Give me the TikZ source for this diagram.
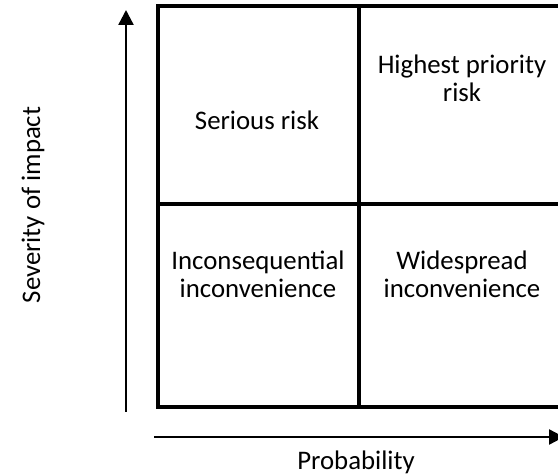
\documentclass[tikz,border=0pt]{standalone}
\usepackage{fontspec}
\setmainfont{Carlito}
\usetikzlibrary{arrows.meta}

\begin{document}
\begin{tikzpicture}[x=0.5pt, y=-0.5pt,
    font={\fontsize{13.4pt}{14pt}\selectfont}]

  % Page size
  \useasboundingbox (0,0) rectangle (558,476);

  % Corners and centre of the grid
  \coordinate (TL) at (158,6);
  \coordinate (BR) at (560,407);
  \coordinate (M) at (359,204);

  % Draw grid
  \draw[line width=1.6pt] (TL) rectangle (BR);
  \draw[line width=1.6pt] (M |- TL) -- (M |- BR);
  \draw[line width=1.6pt] (M -| TL) -- (M -| BR);

  % Ends of the axes
  \coordinate (Y0) at (126,412);
  \coordinate (Y1) at (126,10);
  \coordinate (X0) at (154,437);
  \coordinate (X1) at (564,437);

  % Draw axes
  \draw[line width=1.2pt, -{Triangle[length=7.5pt,width=7.5pt]}] (Y0) -- (Y1);
  \draw[line width=1.2pt, -{Triangle[length=7.5pt,width=7.5pt]}] (X0) -- (X1);

  % Cell labels
  \node[anchor=base] (serious) at (257,130) {Serious risk};
  \node[anchor=base, align=center] (highest) at (462,102) {Highest priority\\risk};
  \node[anchor=base, align=center] (inconseq) at (258,298) {Inconsequential\\inconvenience};
  \node[anchor=base, align=center] (widespread) at (462,298) {Widespread\\inconvenience};

  % Axis labels
  \node[rotate=90, anchor=base] (severity) at (40,205) {Severity of impact};
  \node[anchor=base] (probability) at (356,470) {Probability};

\end{tikzpicture}
\end{document}
